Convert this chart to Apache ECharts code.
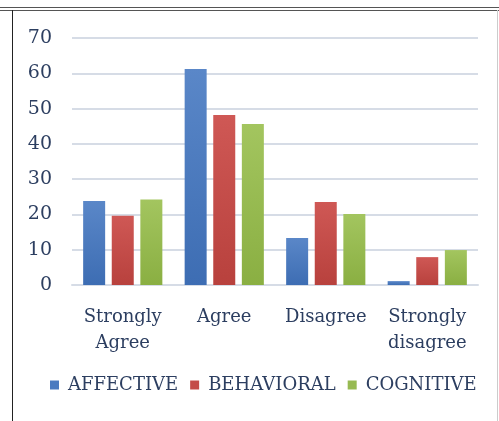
<!DOCTYPE html>
<html>
<head>
<meta charset="utf-8">
<script src="https://cdn.jsdelivr.net/npm/echarts@6/dist/echarts.min.js"></script>
<style>html,body{margin:0;padding:0;background:#fff;}#c{width:499px;height:421px;}</style>
</head>
<body>
<div id="c"></div>
<script>
var categories = ['Strongly\nAgree', 'Agree', 'Disagree', 'Strongly\ndisagree'];
var seriesNames = ['AFFECTIVE', 'BEHAVIORAL', 'COGNITIVE'];
var affective = [23.8, 61.2, 13.3, 1.1];
var behavioral = [19.6, 48.2, 23.5, 7.9];
var cognitive = [24.2, 45.6, 20.1, 9.9];
var yTicks = [0, 10, 20, 30, 40, 50, 60, 70];

var textColor = '#2C3E60';
var font = 'DejaVu Serif';
function grad(top, bottom) {
  return new echarts.graphic.LinearGradient(0, 0, 0, 1, [
    {offset: 0, color: top}, {offset: 1, color: bottom}
  ]);
}
var colors = [grad('#5A87C8', '#3D6DB3'), grad('#CF5855', '#B8413D'), grad('#A3C55F', '#8AAF42')];
var legendColors = ['#4A7AC0', '#C44C49', '#97BA52'];
var values = [affective, behavioral, cognitive];

var chart = echarts.init(document.getElementById('c'), null, {renderer: 'canvas'});
chart.setOption({
  animation: false,
  backgroundColor: '#fff',
  textStyle: {fontFamily: font},
  grid: {left: 72, right: 21, top: 38, bottom: 136, containLabel: false},
  legend: {
    data: seriesNames.map(function (n, i) { return {name: n, itemStyle: {color: legendColors[i]}}; }),
    bottom: 22,
    left: 45,
    icon: 'rect',
    itemWidth: 9,
    itemHeight: 9,
    itemGap: 12,
    textStyle: {fontFamily: font, fontSize: 18, color: textColor, padding: [0, 0, 0, 4]}
  },
  xAxis: {
    type: 'category',
    data: categories,
    axisLine: {show: true, lineStyle: {color: '#D6DCE6', width: 2}},
    axisTick: {show: false},
    axisLabel: {fontFamily: font, fontSize: 18, color: textColor, margin: 19, lineHeight: 26, interval: 0}
  },
  yAxis: {
    type: 'value',
    min: 0,
    max: yTicks[yTicks.length - 1],
    interval: 10,
    axisLine: {show: false},
    axisTick: {show: false},
    splitLine: {lineStyle: {color: '#D6DCE6', width: 2}},
    axisLabel: {fontFamily: font, fontSize: 19, color: textColor, margin: 20}
  },
  series: values.map(function (v, i) {
    return {
      name: seriesNames[i],
      type: 'bar',
      data: v,
      barWidth: 22,
      barGap: '30%',
      itemStyle: {color: colors[i]}
    };
  }),
  graphic: [
    {type: 'line', shape: {x1: 0, y1: 7.5, x2: 499, y2: 7.5}, style: {stroke: '#555', lineWidth: 1}},
    {type: 'line', shape: {x1: 0, y1: 10.5, x2: 499, y2: 10.5}, style: {stroke: '#555', lineWidth: 1}},
    {type: 'line', shape: {x1: 12.5, y1: 10, x2: 12.5, y2: 421}, style: {stroke: '#222', lineWidth: 1}},
    {type: 'line', shape: {x1: 497.5, y1: 10, x2: 497.5, y2: 421}, style: {stroke: '#ccc', lineWidth: 1}}
  ]
});
</script>
</body>
</html>
